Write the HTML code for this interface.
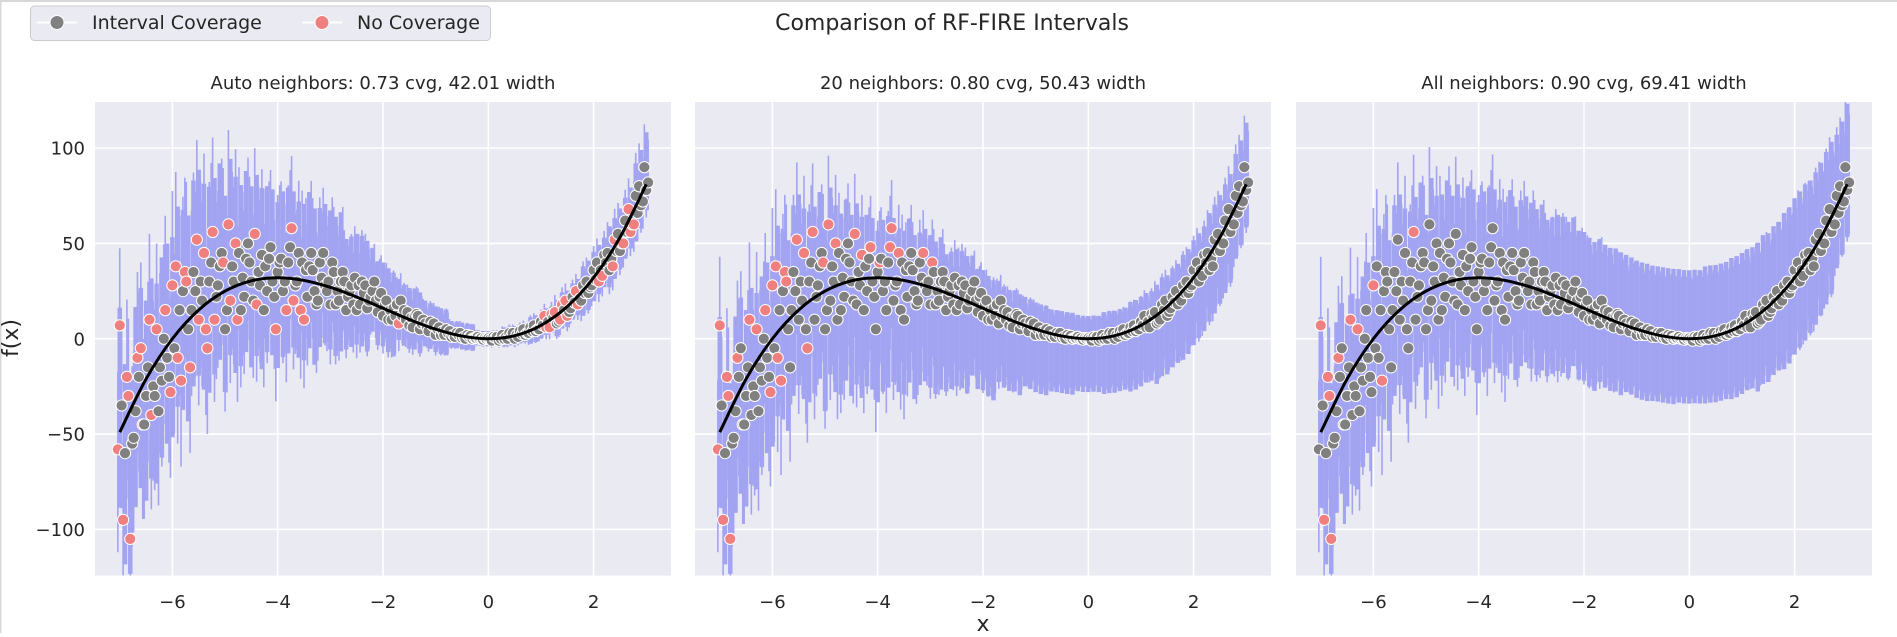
<!DOCTYPE html>
<html><head><meta charset="utf-8">
<style>
html,body{margin:0;padding:0;background:#fff;}
body{width:1897px;height:633px;overflow:hidden;font-family:"DejaVu Sans","Liberation Sans",sans-serif;}
svg text{font-family:"DejaVu Sans","Liberation Sans",sans-serif;fill:#262626;}
</style></head>
<body>
<svg id="fig" width="1897" height="633" viewBox="0 0 1897 633">
  <rect x="0" y="0" width="1897" height="633" fill="#fff"/>
  <line x1="0.5" y1="0" x2="0.5" y2="633" stroke="#d8d8d8" stroke-width="2"/>
  <line x1="0" y1="1" x2="1897" y2="1" stroke="#d8d8d8" stroke-width="2"/>
  <text x="952" y="30" font-size="22" text-anchor="middle">Comparison of RF-FIRE Intervals</text>
  <g>
    <rect x="30.5" y="6" width="460" height="34.5" rx="4" fill="#eaeaf2" stroke="#cccccc" stroke-width="1"/>
    <g>
      <line x1="37" y1="22.5" x2="77" y2="22.5" stroke="#fff" stroke-width="2"/>
      <circle cx="57" cy="22.5" r="7" fill="#808080" stroke="#fff" stroke-width="1"/>
      <text x="92" y="29" font-size="19">Interval Coverage</text>
    </g>
    <g>
      <line x1="302" y1="22.5" x2="342" y2="22.5" stroke="#fff" stroke-width="2"/>
      <circle cx="322" cy="22.5" r="7" fill="#f08080" stroke="#fff" stroke-width="1"/>
      <text x="357" y="29" font-size="19">No Coverage</text>
    </g>
  </g>
  <text x="18" y="338" font-size="22" text-anchor="middle" transform="rotate(-90 18 338)">f(x)</text>
  <text x="983" y="631" font-size="22" text-anchor="middle">x</text>
  <g id="panels"></g>
</svg>
<script>
// ---- data ----
const xs = [];
for (let i = 0; i <= 100; i++) xs.push(Math.round((-7 + i * 0.1) * 10) / 10);
const ys1 = [-58,-95,-30,-52,-20,-45,10,-30,-15,15,-28,
  38,-22,30,15,52,20,-5,56,28,40,
  60,30,45,22,40,55,28,38,48,5,
  42,15,58,30,40,22,36,20,45,30,
  35,20,30,25,32,18,28,22,20,24,
  20,10,18,12,14,6,12,10,4,8,
  6,2,4,1,3,0,1.5,0.5,0.3,0,
  -1,1,2,0,3,1,5,3,7,5,
  12,6,14,10,20,16,25,20,30,28,
  40,33,45,38,55,50,68,60,80,90];
const ys2 = [7,-60,-105,-38,-5,-30,-40,5,-22,-10,28,
  -10,25,5,35,10,45,30,10,38,5,
  20,50,15,42,30,18,44,25,30,35,
  25,40,20,45,10,38,25,40,28,18,
  18,30,15,28,15,30,16,25,14,12,
  10,16,8,15,7,12,5,8,9,2,
  2,5,1,3,0.5,2,0,1,-0.5,0.2,
  1,-1,0,3,0,4,2,6,4,9,
  6,13,8,18,12,22,18,28,24,36,
  30,44,36,52,46,62,56,75,70,78];
const ys3 = [-35,-20,-55,-10,-45,-15,-25,-38,0,-20,-5,
  15,35,-15,25,30,5,40,22,45,15,
  38,10,32,50,20,35,15,42,22,40,
  30,48,28,15,36,45,18,32,25,40,
  25,35,22,18,28,24,20,30,22,18,
  15,12,20,10,11,13,8,6,7,5,
  4,3,2,2,1,1,0.5,0,0.4,-0.3,
  0.5,0,1,1.5,2,2.5,3,4,5,7,
  9,11,9,15,14,19,21,24,27,31,
  36,40,42,46,50,56,60,66,72,82];
// true function samples (black curve)
const curveX = [-7,-6.5,-6,-5.5,-5,-4.5,-4,-3.5,-3,-2.5,-2,-1.5,-1,-0.5,0,0.5,1,1.5,2,2.5,3];
const curveY = [-49,-21.1,0,15.1,25,30.4,32,30.6,27,21.9,16,10.1,5,1.4,0,1.6,7,16.9,32,53.1,81];
// interval offsets (below / above prediction) on coarse grid -7..3 step 0.5
const lo1 = [60,55,50,50,48,45,42,40,35,28,22,16,12,7,4,5,7,9,12,14,16];
const hi1 = [45,50,55,58,55,50,45,42,38,30,22,16,12,7,4,5,7,10,14,18,25];
const lo2 = [60,58,55,55,58,60,60,58,55,50,45,38,33,30,28,30,32,34,35,32,25];
const hi2 = [40,45,45,45,40,35,30,28,25,22,18,15,14,13,12,13,15,18,20,25,30];
const lo3 = [60,58,55,55,52,50,50,48,45,42,40,38,36,35,34,35,36,38,40,38,30];
const hi3 = [40,42,45,45,45,45,45,43,42,40,38,37,36,36,36,37,38,40,42,42,40];
const coverFrac = [0.36, 0.42, 0.55];
const titles = ["Auto neighbors: 0.73 cvg, 42.01 width","20 neighbors: 0.80 cvg, 50.43 width","All neighbors: 0.90 cvg, 69.41 width"];
const xTicks = [-6,-4,-2,0,2];
const yTicks = [100,50,0,-50,-100];

const panels = [{left:95,lo:lo1,hi:hi1,name:'auto'},{left:695,lo:lo2,hi:hi2,name:'20'},{left:1296,lo:lo3,hi:hi3,name:'all'}];
const W = 576, TOP = 102, BOT = 575.5;
const XMIN = -7.47, XMAX = 3.47, YMIN = -124.2, YMAX = 124.2;
const NS = 'http://www.w3.org/2000/svg';
const root = document.getElementById('panels');
function mk(tag, attrs, parent){const e=document.createElementNS(NS,tag);for(const k in attrs)e.setAttribute(k,attrs[k]);parent.appendChild(e);return e;}

panels.forEach((p, pi) => {
  const sx = v => p.left + (v - XMIN) / (XMAX - XMIN) * W;
  const sy = v => BOT - (v - YMIN) / (YMAX - YMIN) * (BOT - TOP);
  const g = mk('g', {}, root);
  
  
  const bg = mk('rect', {x:p.left, y:TOP, width:W, height:BOT-TOP, fill:'#eaeaf2'}, g);
  
  
  yTicks.forEach(t => {
    const l = mk('line', {x1:p.left, x2:p.left+W, y1:sy(t), y2:sy(t), stroke:'#fff', 'stroke-width':1.6}, g);
    
    
    if (pi === 0) {
      const tx = mk('text', {x:p.left-10, y:sy(t)+6.5, 'font-size':18, 'text-anchor':'end'}, g);
      tx.textContent = String(t).replace('-', '\u2212');
      
      
    }
  });
  xTicks.forEach(t => {
    const l = mk('line', {x1:sx(t), x2:sx(t), y1:TOP, y2:BOT, stroke:'#fff', 'stroke-width':1.6}, g);
    
    
    const tx = mk('text', {x:sx(t), y:608, 'font-size':18, 'text-anchor':'middle'}, g);
    tx.textContent = String(t).replace('-', '\u2212');
    
    
  });
  const tt = mk('text', {x:p.left+W/2, y:89, 'font-size':18, 'text-anchor':'middle'}, g);
  tt.textContent = titles[pi];
  
  

  const clip = mk('clipPath', {id:'clip'+pi}, g);
  mk('rect', {x:p.left, y:TOP, width:W, height:BOT-TOP}, clip);
  const ig = mk('g', {'clip-path':'url(#clip'+pi+')'}, g);
  
  
  const pts = [];
  xs.forEach((x, i) => {
    const b = Math.round((x + 7) / 0.5);
    const obs = [ys1[i], ys2[i], ys3[i]];
    const pred = (obs[0] + obs[1] + obs[2]) / 3;
    const l = mk('line', {x1:sx(x), x2:sx(x), y1:sy(pred - p.lo[b]), y2:sy(pred + p.hi[b]), stroke:'#a2a4f2', 'stroke-width':4.5}, ig);
    
    
    obs.forEach((y, k) => {
      const dx = (k - 1) * 1.9;
      const s = mk('line', {x1:sx(x)+dx, x2:sx(x)+dx, y1:sy(y - p.lo[b]*0.9), y2:sy(y + p.hi[b]*0.9), stroke:'#a2a4f2', 'stroke-width':1.6}, ig);
      
      
      const f = coverFrac[pi];
      pts.push([x, y, dx, y >= pred - p.lo[b]*f && y <= pred + p.hi[b]*f]);
    });
  });
  const pg = mk('g', {'clip-path':'url(#clip'+pi+')'}, g);
  
  
  pts.forEach(([x, y, dx, c]) => {
    const pt = mk('circle', {cx:sx(x)+dx, cy:sy(y), r:5.6, fill:c ? '#808080' : '#f08080', stroke:'#fff', 'stroke-width':1}, pg);
    
    
  });
  // black curve (Catmull-Rom through samples)
  const P = curveX.map((x, i) => [sx(x), sy(curveY[i])]);
  let d = 'M' + P[0][0] + ',' + P[0][1];
  for (let i = 0; i < P.length - 1; i++) {
    const p0 = P[Math.max(0, i-1)], p1 = P[i], p2 = P[i+1], p3 = P[Math.min(P.length-1, i+2)];
    d += ' C' + (p1[0]+(p2[0]-p0[0])/6) + ',' + (p1[1]+(p2[1]-p0[1])/6) + ' ' + (p2[0]-(p3[0]-p1[0])/6) + ',' + (p2[1]-(p3[1]-p1[1])/6) + ' ' + p2[0] + ',' + p2[1];
  }
  const cv = mk('path', {d:d, fill:'none', stroke:'#000', 'stroke-width':3}, g);
  
  
});
</script>
</body></html>
